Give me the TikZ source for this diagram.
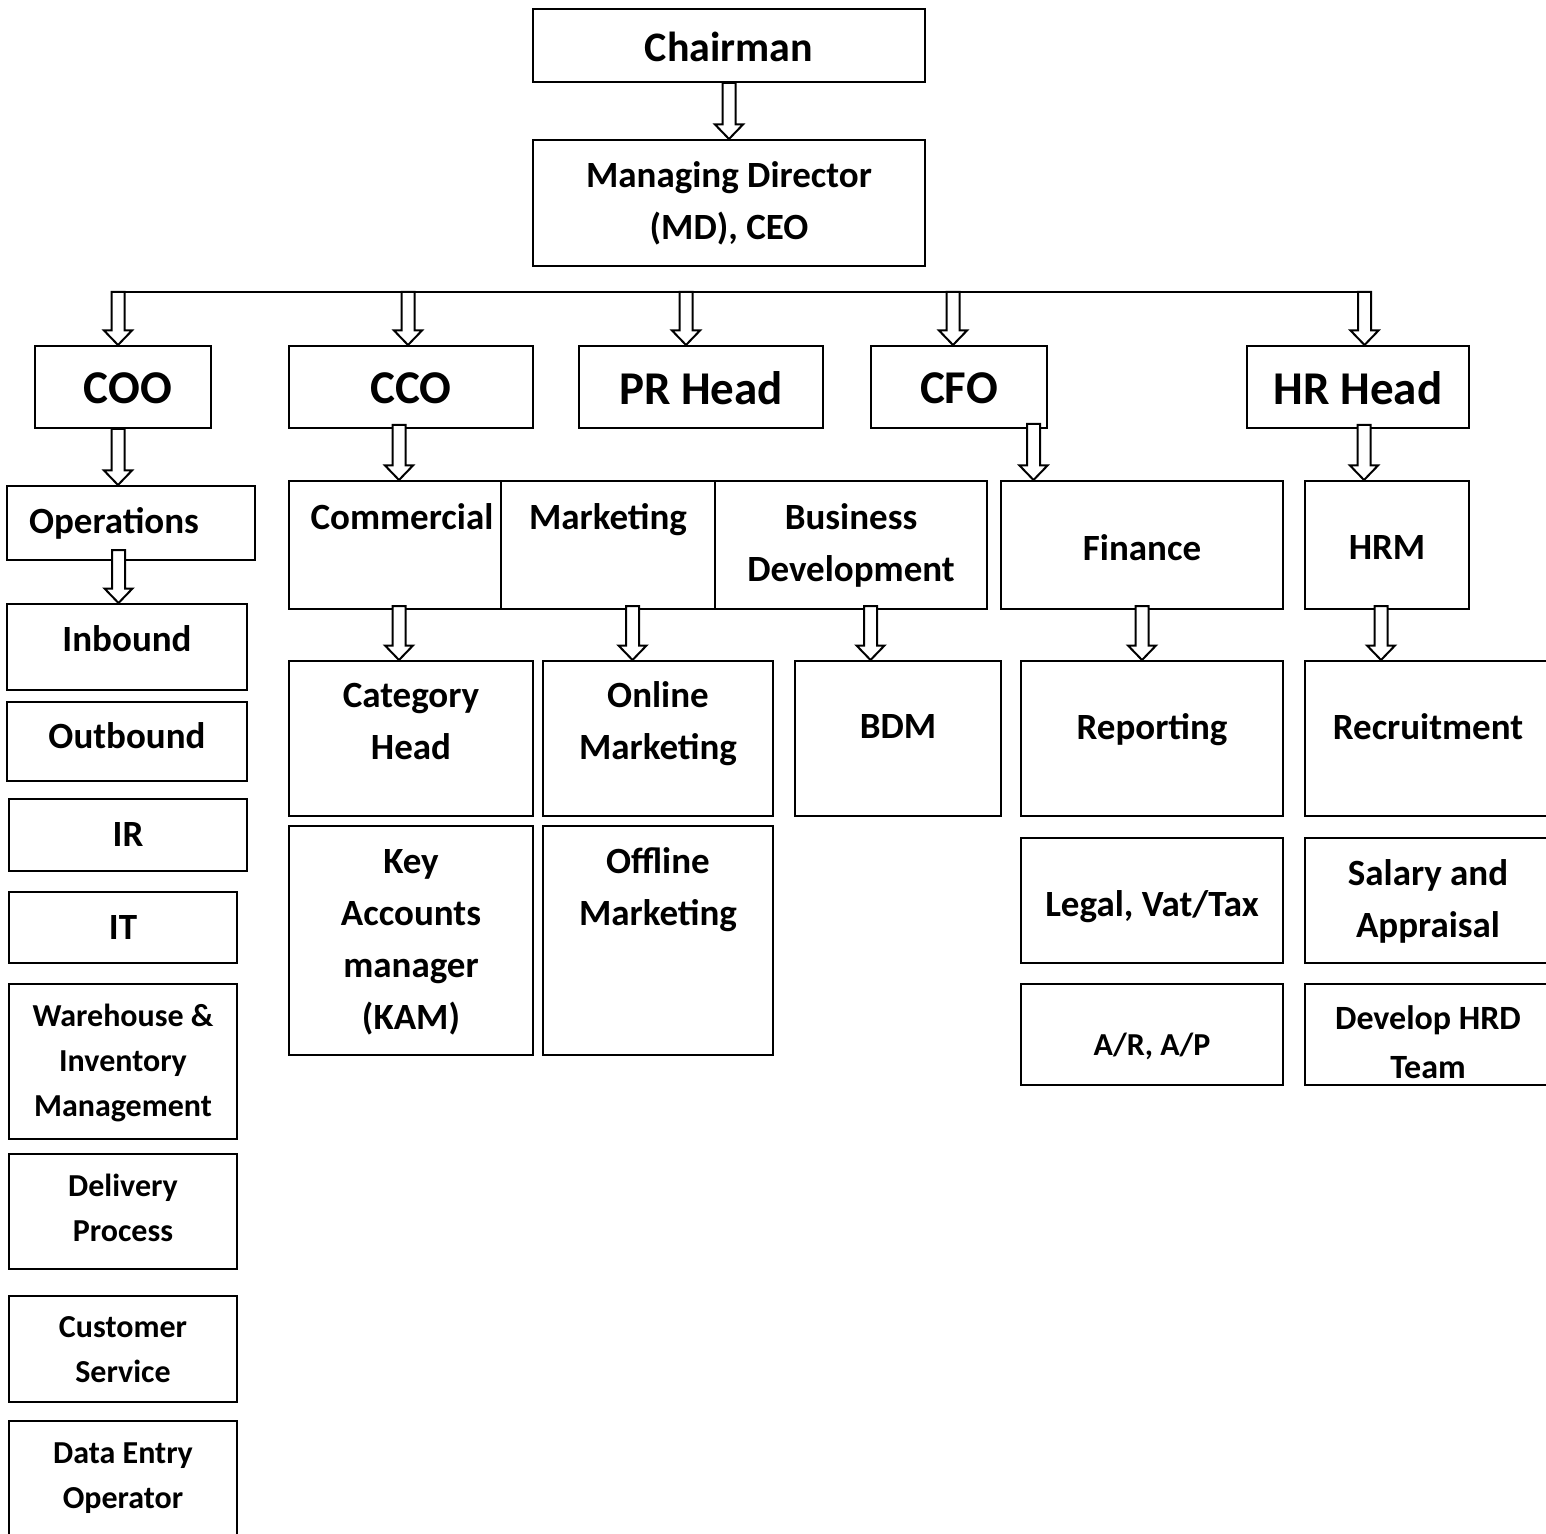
\documentclass[tikz,border=0pt]{standalone}
\usepackage{fontspec}
\setmainfont{Carlito}
\usetikzlibrary{calc, fit}

% hollow block arrow: shaft starts at the height of #1, tip lands on #2
\newcommand{\blockarrow}[2]{%
  \draw[harrow] let \p1=#1, \p2=#2 in
    (\x2-3.25pt,\y1) -- (\x2-3.25pt,\y2+7.25pt) -- (\x2-7pt,\y2+7.25pt) -- (\x2,\y2)
    -- (\x2+7pt,\y2+7.25pt) -- (\x2+3.25pt,\y2+7.25pt) -- (\x2+3.25pt,\y1) -- cycle;}

\begin{document}
\begin{tikzpicture}[
    x=0.5pt, y=-0.5pt,
    box/.style={draw, line width=1pt, fill=white, inner sep=0pt},
    harrow/.style={draw, line width=1pt, fill=white, line join=miter},
    bus/.style={draw, line width=1pt},
    txt/.style={font=\bfseries\fontsize{18.5}{26}\selectfont, align=center, inner sep=0pt},
    toptxt/.style={txt, font=\bfseries\fontsize{21}{26}\selectfont},
    headtxt/.style={txt, font=\bfseries\fontsize{23.5}{28}\selectfont},
    smalltxt/.style={txt, font=\bfseries\fontsize{16}{22.5}\selectfont},
    midtxt/.style={txt, font=\bfseries\fontsize{17}{24.5}\selectfont},
]
\useasboundingbox (0,0) rectangle (1546,1534);
\clip (0,0) rectangle (1546,1534);
% ============================================================
% TOP: chairman and managing director
% ============================================================
\node[box, fit={(533,9) (925,82)}] (chair) {};
\node[toptxt] (t-chair) at (729,47) {Chairman};
\node[box, fit={(533,140) (925,266)}] (md) {};
\node[txt] (t-md) at (729,203) {Managing Director\\(MD), CEO};
% ============================================================
% ROW 1: chiefs
% ============================================================
\node[box, fit={(35,346) (211,428)}] (coo) {};
\node[headtxt] (t-coo) at (128,388) {COO};
\node[box, fit={(289,346) (533,428)}] (cco) {};
\node[headtxt] (t-cco) at (411,388) {CCO};
\node[box, fit={(579,346) (823,428)}] (pr) {};
\node[headtxt] (t-pr) at (701,388) {PR Head};
\node[box, fit={(871,346) (1047,428)}] (cfo) {};
\node[headtxt] (t-cfo) at (959,388) {CFO};
\node[box, fit={(1247,346) (1469,428)}] (hr) {};
\node[headtxt] (t-hr) at (1358,388) {HR Head};
% ============================================================
% ROW 2: departments
% ============================================================
\node[box, fit={(7,486) (255,560)}] (ops) {};
\node[txt] (t-ops) at (114,523) {Operations};
\node[box, fit={(289,481) (525,609)}] (comm) {};
\node[txt] (t-comm) at (402,517) {Commercial};
\node[box, fit={(501,481) (715,609)}] (mkt) {};
\node[txt] (t-mkt) at (608,520) {Marketing};
\node[box, fit={(715,481) (987,609)}] (bd) {};
\node[txt] (t-bd) at (851,545) {Business\\Development};
\node[box, fit={(1001,481) (1283,609)}] (fin) {};
\node[txt] (t-fin) at (1142,548) {Finance};
\node[box, fit={(1305,481) (1469,609)}] (hrm) {};
\node[txt] (t-hrm) at (1387,548) {HRM};
% --- operations units ---
\node[box, fit={(7,604) (247,690)}] (inb) {};
\node[txt] (t-inb) at (127,639) {Inbound};
\node[box, fit={(7,702) (247,781)}] (outb) {};
\node[txt] (t-outb) at (127,736) {Outbound};
\node[box, fit={(9,799) (247,871)}] (ir) {};
\node[txt] (t-ir) at (128,834) {IR};
\node[box, fit={(9,892) (237,963)}] (it) {};
\node[txt] (t-it) at (123,927) {IT};
\node[box, fit={(9,984) (237,1139)}] (wh) {};
\node[smalltxt] (t-wh) at (123,1063) {Warehouse \&\\Inventory\\Management};
\node[box, fit={(9,1154) (237,1269)}] (deliv) {};
\node[smalltxt] (t-deliv) at (123,1208) {Delivery\\Process};
\node[box, fit={(9,1296) (237,1402)}] (cs) {};
\node[smalltxt] (t-cs) at (123,1350) {Customer\\Service};
\node[box, fit={(9,1421) (237,1545)}] (dataop) {};
\node[smalltxt] (t-dataop) at (123,1478) {Data Entry\\Operator};
% ============================================================
% ROW 3: teams
% ============================================================
\node[box, fit={(289,661) (533,816)}] (cat) {};
\node[txt] (t-cat) at (411,722) {Category\\Head};
\node[box, fit={(543,661) (773,816)}] (onl) {};
\node[txt] (t-onl) at (658,724) {Online\\Marketing};
\node[box, fit={(795,661) (1001,816)}] (bdm) {};
\node[txt] (t-bdm) at (898,727) {BDM};
\node[box, fit={(1021,661) (1283,816)}] (rep) {};
\node[txt] (t-rep) at (1152,730) {Reporting};
\node[box, fit={(1305,661) (1552,816)}] (rec) {};
\node[txt] (t-rec) at (1428,727) {Recruitment};
%
\node[box, fit={(289,826) (533,1055)}] (kam) {};
\node[txt] (t-kam) at (411,942) {Key\\Accounts\\manager\\(KAM)};
\node[box, fit={(543,826) (773,1055)}] (offl) {};
\node[txt] (t-offl) at (658,890) {Offline\\Marketing};
\node[box, fit={(1021,838) (1283,963)}] (legal) {};
\node[txt] (t-legal) at (1152,907) {Legal, Vat/Tax};
\node[box, fit={(1305,838) (1552,963)}] (sal) {};
\node[txt] (t-sal) at (1428,901) {Salary and\\Appraisal};
\node[box, fit={(1021,984) (1283,1085)}] (arap) {};
\node[smalltxt] (t-arap) at (1152,1046) {A/R, A/P};
\node[box, fit={(1305,984) (1552,1085)}] (hrd) {};
\node[midtxt] (t-hrd) at (1428,1042) {Develop HRD\\Team};
% ============================================================
% Connectors
% ============================================================
\coordinate (bus-l) at (111.5,292);
\coordinate (bus-r) at (1371,292);
\coordinate (bus-coo) at (118,292);
\coordinate (bus-cco) at (408,292);
\coordinate (bus-pr) at (686,292);
\coordinate (bus-cfo) at (953,292);
\coordinate (bus-hr) at (1364.5,292);
\draw[bus] (bus-l) -- (bus-r);
\blockarrow{(chair.south)}{(md.north)}
\blockarrow{(bus-coo)}{(coo.north -| bus-coo)}
\blockarrow{(bus-cco)}{(cco.north -| bus-cco)}
\blockarrow{(bus-pr)}{(pr.north -| bus-pr)}
\blockarrow{(bus-cfo)}{(cfo.north -| bus-cfo)}
\blockarrow{(bus-hr)}{(hr.north -| bus-hr)}
% --- chiefs -> departments ---
\blockarrow{(coo.south -| bus-coo)}{(ops.north -| bus-coo)}
\blockarrow{($(cco.south)+(0,-4)$)}{($(comm.north)+(-8,0)$)}
\blockarrow{($(cfo.south)+(0,-5)$)}{($(fin.north west)+(33.5,0)$)}
\blockarrow{($(hr.south)+(0,-4)$)}{($(hrm.north)+(-23,0)$)}
% --- departments -> teams ---
\blockarrow{($(ops.south)+(0,-11)$)}{($(inb.north)+(-8.5,0)$)}
\blockarrow{($(comm.south)+(0,-4)$)}{($(cat.north)+(-12,0)$)}
\blockarrow{($(mkt.south)+(0,-4)$)}{($(onl.north)+(-25.5,0)$)}
\blockarrow{($(bd.south)+(0,-4)$)}{($(bdm.north)+(-27.5,0)$)}
\blockarrow{($(fin.south)+(0,-4)$)}{($(rep.north)+(-10,0)$)}
\blockarrow{($(hrm.south)+(0,-4)$)}{($(rec.north west)+(77,0)$)}
\end{tikzpicture}
\end{document}
